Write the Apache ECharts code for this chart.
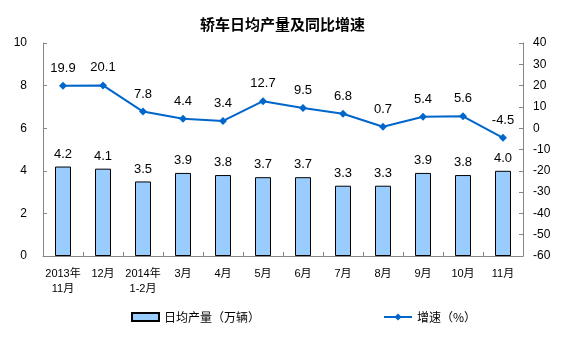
<!DOCTYPE html>
<html><head><meta charset="utf-8">
<script src="https://cdn.jsdelivr.net/npm/echarts@6/dist/echarts.min.js"></script>
<style>html,body{margin:0;padding:0;background:#fff}#c{width:565px;height:350px}</style>
</head><body><div id="c"></div>
<script>
var categories = ['2013年\n11月','12月','2014年\n1-2月','3月','4月','5月','6月','7月','8月','9月','10月','11月'];
var dailyOutput = [4.2,4.1,3.5,3.9,3.8,3.7,3.7,3.3,3.3,3.9,3.8,4.0];
var growth = [19.9,20.1,7.8,4.4,3.4,12.7,9.5,6.8,0.7,5.4,5.6,-4.5];
var leftTicks = [0,2,4,6,8,10];
var rightTicks = [-60,-50,-40,-30,-20,-10,0,10,20,30,40];
var FONT = '"Liberation Sans", "Noto Sans CJK SC", sans-serif';
var chart = echarts.init(document.getElementById('c'));
var axisLine = {show:true, lineStyle:{color:'#868686', width:1}};
chart.setOption({
  animation:false,
  textStyle:{fontFamily:FONT},
  title:{text:'轿车日均产量及同比增速', left:'center', top:12,
    textStyle:{fontSize:15, fontWeight:'bold', color:'#000', fontFamily:'"Noto Sans CJK SC", sans-serif'}},
  legend:[
    {data:[{name:'日均产量（万辆）', icon:'rect'}], left:126, top:306, itemWidth:27, itemHeight:8, itemGap:4,
      textStyle:{fontSize:12, color:'#000', fontFamily:'"Noto Sans CJK SC", sans-serif'}},
    {data:['增速（%）'], left:378, top:306, itemWidth:28, itemHeight:9,
      textStyle:{fontSize:12, color:'#000', fontFamily:'"Noto Sans CJK SC", sans-serif'}}
  ],
  grid:{left:43, right:42, top:43, bottom:94},
  xAxis:{type:'category', data:categories, axisLine:axisLine,
    axisTick:{show:true, inside:true, length:4, lineStyle:{color:'#868686'}},
    axisLabel:{fontSize:11, color:'#000', margin:10, interval:0, lineHeight:15, fontFamily:FONT}},
  yAxis:[
    {type:'value', min:0, max:10, interval:2, axisLine:axisLine, splitLine:{show:false},
      axisTick:{show:true, inside:true, length:4, lineStyle:{color:'#868686'}},
      axisLabel:{fontSize:12, color:'#000', margin:16}},
    {type:'value', min:-60, max:40, interval:10, position:'right', axisLine:axisLine, splitLine:{show:false},
      axisTick:{show:true, inside:true, length:4, lineStyle:{color:'#868686'}},
      axisLabel:{fontSize:12, color:'#000', margin:10}}
  ],
  series:[
    {name:'日均产量（万辆）', type:'bar', data:dailyOutput, barWidth:16,
      itemStyle:{color:'#99CCFF', borderColor:'#000', borderWidth:1},
      label:{show:true, position:'top', distance:6, fontSize:13, color:'#000',
        formatter:function(p){return p.value.toFixed(1);}}},
    {name:'增速（%）', type:'line', yAxisIndex:1, data:growth, symbol:'diamond', symbolSize:8,
      lineStyle:{color:'#0066CC', width:2}, itemStyle:{color:'#0066CC'},
      label:{show:true, position:'top', distance:7, fontSize:13, color:'#000',
        formatter:function(p){return p.value.toFixed(1);}}}
  ]
});
</script></body></html>
